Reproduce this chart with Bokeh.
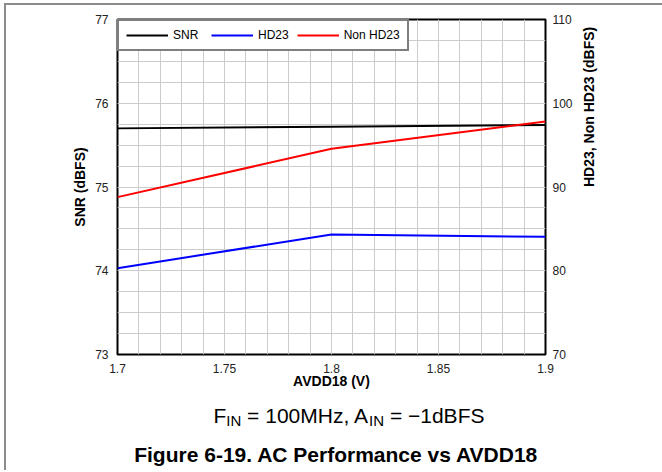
import math
from bokeh.plotting import figure
from bokeh.layouts import column
from bokeh.models import Range1d, LinearAxis, FixedTicker, Legend, LegendItem
from bokeh.core.properties import value
from bokeh.embed import file_html
from bokeh.resources import INLINE

# ---- data ----
avdd18 = [1.7, 1.8, 1.9]
snr = [75.70, 75.72, 75.74]
hd23 = [80.31, 84.33, 84.05]
non_hd23 = [88.79, 94.56, 97.82]

x_ticks = [1.7, 1.75, 1.8, 1.85, 1.9]
x_tick_labels = ["1.7", "1.75", "1.8", "1.85", "1.9"]
left_ticks = [73, 74, 75, 76, 77]
right_ticks = [70, 80, 90, 100, 110]

caption_main = ["F", "= 100MHz, A", "= \u22121dBFS"]
caption_sub = ["IN", "IN"]
figure_title = "Figure 6-19. AC Performance vs AVDD18"

FONT = "Liberation Sans"
GRID = "#cccccc"
TICK_COLOR = "#222222"

W = 656
BL, BR = 111, 117

p = figure(
    width=W, height=389, title=None,
    output_backend="svg", toolbar_location=None,
    x_range=Range1d(1.7, 1.9), y_range=Range1d(73, 77),
    min_border_left=BL, min_border_right=BR,
    min_border_top=14, min_border_bottom=40,
    background_fill_color="white", border_fill_color="white",
)
p.extra_y_ranges = {"right": Range1d(70, 110)}

x_minor = [round(1.7 + 0.01 * i, 2) for i in range(21)]
y_minor = [73 + 0.25 * i for i in range(17)]

p.xaxis.ticker = FixedTicker(ticks=x_ticks, minor_ticks=x_minor)
p.xaxis.major_label_overrides = {t: l for t, l in zip(x_ticks, x_tick_labels)}
p.yaxis.ticker = FixedTicker(ticks=left_ticks, minor_ticks=y_minor)

for g in (p.xgrid, p.ygrid):
    g.grid_line_color = GRID
    g.minor_grid_line_color = GRID
    g.grid_line_width = 1
    g.minor_grid_line_width = 1

p.outline_line_color = "black"
p.outline_line_width = 2

ra = LinearAxis(y_range_name="right", ticker=FixedTicker(ticks=right_ticks),
                axis_label="HD23, Non HD23 (dBFS)")
p.add_layout(ra, "right")

p.xaxis.axis_label = "AVDD18 (V)"
p.yaxis[0].axis_label = "SNR (dBFS)"

for ax in (p.xaxis[0], p.yaxis[0], ra):
    ax.axis_line_color = None
    ax.major_tick_line_color = None
    ax.minor_tick_line_color = None
    ax.major_tick_out = 0
    ax.major_tick_in = 0
    ax.major_label_text_font = FONT
    ax.major_label_text_font_size = "12px"
    ax.major_label_text_color = TICK_COLOR
    ax.axis_label_text_font = FONT
    ax.axis_label_text_font_size = "14px"
    ax.axis_label_text_font_style = "bold"
    ax.axis_label_text_color = "black"

p.xaxis[0].major_label_standoff = 5
p.xaxis[0].axis_label_standoff = -3
p.yaxis[0].major_label_standoff = 5
p.yaxis[0].axis_label_standoff = 4
ra.major_label_standoff = 7
ra.axis_label_standoff = 13
ra.axis_label_orientation = math.pi / 2

r_snr = p.line(avdd18, snr, line_color="black", line_width=2)
r_hd = p.line(avdd18, hd23, line_color="#0000ff", line_width=2, y_range_name="right")
r_non = p.line(avdd18, non_hd23, line_color="#ff0000", line_width=2, y_range_name="right")

legend = Legend(
    items=[LegendItem(label="SNR", renderers=[r_snr]),
           LegendItem(label="HD23", renderers=[r_hd]),
           LegendItem(label="Non HD23", renderers=[r_non])],
    location="top_left", orientation="horizontal",
    margin=0, padding=7, spacing=8,
    glyph_width=42, glyph_height=12, label_height=12, label_width=30,
    label_standoff=5,
    label_text_font=FONT, label_text_font_size="12px", label_text_color="black",
    border_line_color="black", border_line_width=2,
    background_fill_color="white", background_fill_alpha=1,
)
p.add_layout(legend, "center")

# ---- caption panel below the chart; its frame lines up with the chart frame ----
c = figure(
    width=W, height=76, title=None, output_backend="svg", toolbar_location=None,
    x_range=Range1d(117, 545), y_range=Range1d(470, 394),
    x_axis_location=None, y_axis_location=None,
    min_border_left=BL, min_border_right=BR, min_border_top=0, min_border_bottom=0,
    background_fill_color="white", border_fill_color="white",
)
c.grid.visible = False
c.outline_line_color = None

c.text(x=[213, 246.6, 389.4], y=[415, 415, 415], text=caption_main,
       text_font=value(FONT), text_font_size=value("21px"), text_color="black",
       text_baseline="alphabetic", text_align="left")
c.text(x=[225.8, 368.6], y=[420, 420], text=caption_sub,
       text_font=value(FONT), text_font_size=value("15px"), text_color="black",
       text_baseline="alphabetic", text_align="left")
c.text(x=[336], y=[453.7], text=[figure_title],
       text_font=value(FONT), text_font_size=value("21px"), text_font_style="bold",
       text_color="black", text_baseline="alphabetic", text_align="center")

layout = column(p, c, spacing=0,
                styles={"margin-left": "4px", "margin-top": "3px",
                        "border-left": "2px solid #8c8c8c",
                        "border-top": "2px solid #8c8c8c"})

open("out.html", "w").write(file_html(layout, INLINE))
